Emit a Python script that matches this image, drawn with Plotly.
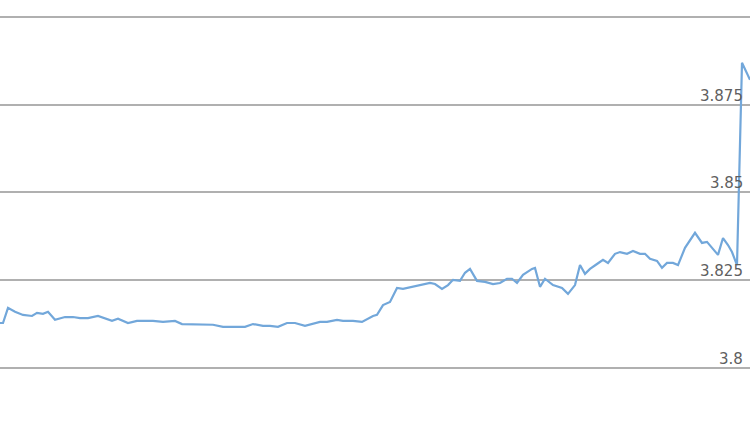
import plotly.graph_objects as go

# sample position (trading day) and rate
days = [0, 3, 8, 15, 23, 32, 37, 43, 48, 55, 65, 73, 80, 88, 98, 105, 112, 118, 128, 137,
        153, 163, 175, 182, 190, 200, 213, 223, 233, 245, 253, 263, 270, 278, 287, 295, 305, 312, 320, 327,
        337, 343, 353, 362, 368, 373, 377, 383, 390, 397, 403, 413, 423, 430, 435, 442, 448, 453, 460, 465,
        470, 477, 485, 493, 500, 507, 512, 517, 523, 532, 535, 540, 545, 553, 562, 568, 575, 580, 585, 590,
        597, 603, 608, 615, 620, 627, 633, 640, 645, 650, 657, 662, 667, 673, 678, 685, 695, 702, 707, 718,
        723, 728, 732, 737, 742, 750]
rate = [3.8128, 3.8128, 3.8171, 3.8160, 3.8151, 3.8148, 3.8157, 3.8154, 3.8160, 3.8137,
        3.8145, 3.8145, 3.8142, 3.8142, 3.8148, 3.8142, 3.8134, 3.8140, 3.8128, 3.8134,
        3.8134, 3.8131, 3.8134, 3.8125, 3.8125, 3.8123, 3.8123, 3.8117, 3.8117, 3.8117,
        3.8125, 3.8120, 3.8120, 3.8117, 3.8128, 3.8128, 3.8120, 3.8125, 3.8131, 3.8131,
        3.8137, 3.8134, 3.8134, 3.8131, 3.8140, 3.8148, 3.8151, 3.8179, 3.8188, 3.8228,
        3.8225, 3.8231, 3.8239, 3.8242, 3.8239, 3.8225, 3.8236, 3.8251, 3.8248, 3.8271,
        3.8282, 3.8248, 3.8245, 3.8239, 3.8242, 3.8254, 3.8254, 3.8242, 3.8265, 3.8282,
        3.8285, 3.8231, 3.8254, 3.8236, 3.8228, 3.8211, 3.8236, 3.8293, 3.8268, 3.8282,
        3.8296, 3.8308, 3.8299, 3.8325, 3.8330, 3.8325, 3.8333, 3.8325, 3.8325, 3.8311,
        3.8305, 3.8285, 3.8299, 3.8299, 3.8293, 3.8342, 3.8385, 3.8356, 3.8359, 3.8322,
        3.8370, 3.8350, 3.8330, 3.8293, 3.8869, 3.8821]

tick_vals = [3.8, 3.825, 3.85, 3.875]
tick_text = ["3.8", "3.825", "3.85", "3.875"]

fig = go.Figure()
fig.add_trace(go.Scatter(x=days, y=rate, mode="lines",
                         line=dict(color="#72a7da", width=2.2), hoverinfo="skip"))

# labels sit right-aligned just above each grid line
for v, t in zip(tick_vals, tick_text):
    fig.add_annotation(x=0.993, y=v, xref="paper", yref="y", text=t, showarrow=False,
                       xanchor="right", yanchor="bottom", yshift=-2,
                       font=dict(family="DejaVu Sans", size=15, color="#5f5f5f"))

fig.update_layout(
    width=750, height=422,
    margin=dict(l=0, r=0, t=0, b=0),
    paper_bgcolor="white", plot_bgcolor="white",
    showlegend=False,
    xaxis=dict(visible=False, range=[0, 750]),
    yaxis=dict(range=[3.7846, 3.9048], dtick=0.025, tick0=3.8, showticklabels=False,
               showgrid=True, gridcolor="#b0b0b0", gridwidth=2, zeroline=False, ticks=""),
)

# drop the default 8px body margin so the figure fills the window
fig.write_html("out.html", config={"displayModeBar": False},
               post_script="document.body.style.margin='0';")
